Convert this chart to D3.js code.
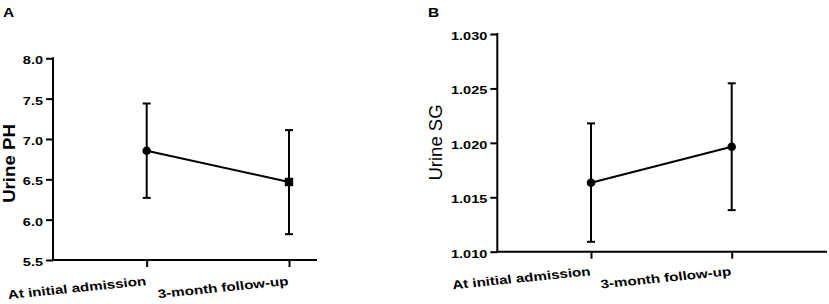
<!DOCTYPE html>
<html><head><meta charset="utf-8">
<script src="https://cdn.jsdelivr.net/npm/d3@7"></script>
<style>body{margin:0;background:#fff}svg{display:block}text{font-family:Arial,"Liberation Sans",sans-serif}</style>
</head><body><svg id="c" width="829" height="304"></svg>
<script>
const categories = ["At initial admission", "3-month follow-up"];
const phMean = [6.855, 6.467];
const phLow = [6.27, 5.82];
const phHigh = [7.44, 7.11];
const phTicks = [5.5, 6.0, 6.5, 7.0, 7.5, 8.0];
const sgMean = [1.01633, 1.01964];
const sgLow = [1.01091, 1.01382];
const sgHigh = [1.02179, 1.02547];
const sgTicks = [1.010, 1.015, 1.020, 1.025, 1.030];

const svg = d3.select("#c");
const VS = 0.8; // vertical squash of the original figure

function panel(cfg) {
  const g = svg.append("g");
  const x = d3.scalePoint().domain(categories).range(cfg.xr).padding(0);
  const y = d3.scaleLinear().domain(cfg.yd).range(cfg.yr);
  const ya = g.append("g").attr("transform", `translate(${cfg.ax},0)`)
    .call(d3.axisLeft(y).tickValues(cfg.ticks).tickFormat(cfg.fmt).tickSize(7).tickSizeOuter(0));
  const xa = g.append("g").attr("transform", `translate(0,${cfg.yr[0]})`)
    .call(d3.axisBottom(x).tickSize(7).tickSizeOuter(0).tickFormat(""));
  [ya, xa].forEach(a => {
    a.selectAll("path.domain").remove();
    a.selectAll("line").attr("stroke", "#000").attr("stroke-width", 2);
  });
  ya.selectAll("text").attr("x", null).attr("dy", null).attr("fill", "#000")
    .attr("transform", "translate(-10,5.5) scale(1," + VS + ")")
    .style("font-size", "14.5px").style("font-weight", "bold");
  g.append("line").attr("x1", cfg.ax).attr("x2", cfg.ax).attr("y1", cfg.yr[0] + 1).attr("y2", cfg.yr[1] - 1)
    .attr("stroke", "#000").attr("stroke-width", 2);
  g.append("line").attr("x1", cfg.ax - 1).attr("x2", cfg.xEnd).attr("y1", cfg.yr[0]).attr("y2", cfg.yr[0])
    .attr("stroke", "#000").attr("stroke-width", 2);
  categories.forEach(c => {
    g.append("text").attr("transform", `translate(${x(c)},${cfg.yr[0] + cfg.lblDy}) scale(1,${VS}) rotate(-7.2)`)
      .attr("text-anchor", "end").style("font-size", "15.2px").style("font-weight", "bold").text(c);
  });
  categories.forEach((c, i) => {
    const cx = x(c);
    g.append("line").attr("x1", cx).attr("x2", cx).attr("y1", y(cfg.lo[i])).attr("y2", y(cfg.hi[i]))
      .attr("stroke", "#000").attr("stroke-width", 2);
    [cfg.lo[i], cfg.hi[i]].forEach(v => g.append("line").attr("x1", cx - 4).attr("x2", cx + 4)
      .attr("y1", y(v)).attr("y2", y(v)).attr("stroke", "#000").attr("stroke-width", 2));
  });
  g.append("path").datum(cfg.mean).attr("fill", "none").attr("stroke", "#000").attr("stroke-width", 2)
    .attr("d", d3.line().x((d, i) => x(categories[i])).y(d => y(d)));
  cfg.mean.forEach((v, i) => {
    const cx = x(categories[i]), cy = y(v);
    if (cfg.shapes[i] === "square")
      g.append("rect").attr("x", cx - 4.2).attr("y", cy - 4.2).attr("width", 8.4).attr("height", 8.4).attr("fill", "#000");
    else
      g.append("circle").attr("cx", cx).attr("cy", cy).attr("r", 4.3).attr("fill", "#000");
  });
  g.append("text").attr("transform", `translate(${cfg.titleX},${cfg.titleY}) rotate(-90) scale(${cfg.titleStretch},1)`)
    .attr("text-anchor", "middle").style("font-size", cfg.titleSize).style("font-weight", cfg.titleWeight).text(cfg.title);
  g.append("text").attr("transform", `translate(${cfg.letterX},16.7) scale(1,${VS})`)
    .style("font-size", "15.5px").style("font-weight", "bold").text(cfg.letter);
}

panel({xr: [146.7, 289], yd: [5.5, 8], yr: [260, 58.3], ax: 53, xEnd: 317, ticks: phTicks, fmt: d3.format(".1f"),
  lo: phLow, hi: phHigh, mean: phMean, shapes: ["circle", "square"], lblDy: 25,
  title: "Urine PH", titleX: 15, titleY: 163.5, titleStretch: 1.13,
  titleSize: "16.5px", titleWeight: "bold", letter: "A", letterX: 3});
panel({xr: [591, 731.7], yd: [1.010, 1.030], yr: [251.7, 34], ax: 497.3, xEnd: 827, ticks: sgTicks, fmt: d3.format(".3f"),
  lo: sgLow, hi: sgHigh, mean: sgMean, shapes: ["circle", "circle"], lblDy: 23.5,
  title: "Urine SG", titleX: 442, titleY: 142.5, titleStretch: 1,
  titleSize: "18.5px", titleWeight: "normal", letter: "B", letterX: 428});
</script></body></html>
